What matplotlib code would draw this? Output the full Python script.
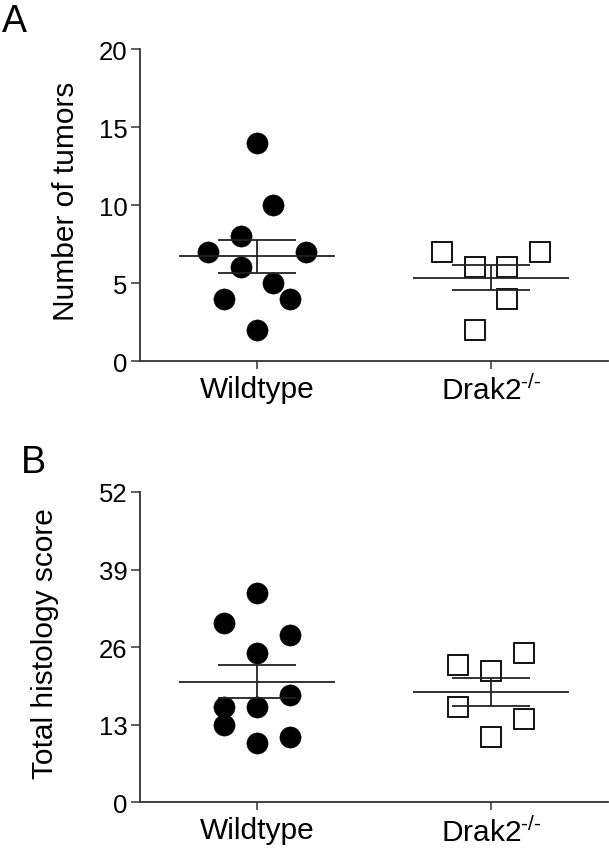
import numpy as np
import matplotlib
matplotlib.use("Agg")
import matplotlib.pyplot as plt

plt.rcParams['font.family'] = ['Liberation Sans', 'DejaVu Sans']
plt.rcParams['mathtext.fontset'] = 'custom'
plt.rcParams['mathtext.rm'] = 'Liberation Sans'
plt.rcParams['mathtext.it'] = 'Liberation Sans:italic'
plt.rcParams['mathtext.bf'] = 'Liberation Sans:bold'

# ---- data ----
groups = ["Wildtype", r"Drak2$^{\text{-/-}}$"]

tumors_wt = [14, 10, 8, 7, 7, 6, 5, 4, 4, 2]
tumors_wt_slot = [0, 1, -1, -3, 3, -1, 1, -2, 2, 0]
tumors_ko = [7, 7, 6, 6, 4, 2]
tumors_ko_slot = [-3, 3, -1, 1, 1, -1]

histo_wt = [35, 30, 28, 25, 18, 16, 16, 13, 11, 10]
histo_wt_slot = [0, -2, 2, 0, 2, -2, 0, -2, 2, 0]
histo_ko = [25, 23, 22, 16, 14, 11]
histo_ko_slot = [2, -2, 0, -2, 2, 0]

yticks_a = [0, 5, 10, 15, 20]
yticks_b = [0, 13, 26, 39, 52]

W, H = 609, 853
fig = plt.figure(figsize=(W / 100, H / 100), dpi=100)

line_col = '#222222'
spine_col = '#333333'
step = 0.07


def ax_rect(left, top, right, bottom):
    return [left / W, 1 - bottom / H, (right - left) / W, (bottom - top) / H]


def draw_panel(ax, wt, wt_slot, ko, ko_slot, yticks, ylabel, label_x):
    # points
    ax.plot(0 + np.array(wt_slot) * step, wt, 'o', ms=15.3, mfc='black',
            mec='black', mew=0.3, ls='none', zorder=2, clip_on=False)
    ax.plot(1 + np.array(ko_slot) * step, ko, 's', ms=14.3, mfc='none',
            mec='black', mew=1.3, ls='none', zorder=2, clip_on=False)
    # mean +/- SEM
    for xi, vals in [(0, wt), (1, ko)]:
        v = np.array(vals, dtype=float)
        m = v.mean()
        sem = v.std(ddof=1) / np.sqrt(len(v))
        ax.hlines(m, xi - 0.333, xi + 0.333, color=line_col, lw=1.3, zorder=3)
        ax.hlines([m - sem, m + sem], xi - 0.167, xi + 0.167,
                  color=line_col, lw=1.3, zorder=3)
        ax.vlines(xi, m - sem, m + sem, color=line_col, lw=1.3, zorder=3)

    ax.set_xlim(-0.5, 1.5)
    ax.set_ylim(yticks[0], yticks[-1])
    ax.set_yticks(yticks)
    ax.set_xticks([0, 1])
    ax.set_xticklabels(groups, fontsize=21.5)
    ax.tick_params(axis='y', labelsize=18.5, length=6.5, width=1.1,
                   color=spine_col, pad=2.5, direction='out')
    ax.tick_params(axis='x', length=6, width=1.1, color=spine_col,
                   pad=4, direction='out')
    for s in ['top', 'right']:
        ax.spines[s].set_visible(False)
    for s in ['left', 'bottom']:
        ax.spines[s].set_color(spine_col)
        ax.spines[s].set_linewidth(1.3)
    ax.set_ylabel(ylabel, fontsize=21.5, va='center')
    ax.yaxis.set_label_coords(label_x, 0.515)


axA = fig.add_axes(ax_rect(140, 50, 608, 362))
draw_panel(axA, tumors_wt, tumors_wt_slot, tumors_ko, tumors_ko_slot,
           yticks_a, "Number of tumors", -0.158)

axB = fig.add_axes(ax_rect(140, 493, 608, 803.3))
draw_panel(axB, histo_wt, histo_wt_slot, histo_ko, histo_ko_slot,
           yticks_b, "Total histology score", -0.204)

fig.text(2 / W, 1 - 32 / H, "A", fontsize=27, ha='left', va='baseline')
fig.text(21 / W, 1 - 472.7 / H, "B", fontsize=27, ha='left', va='baseline')

fig.savefig("out.png", dpi=100)
